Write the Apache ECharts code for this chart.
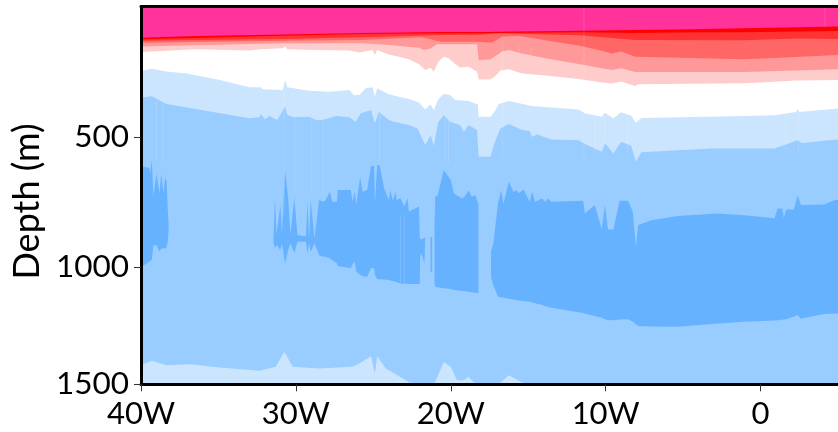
<!DOCTYPE html>
<html><head><meta charset="utf-8">
<style>html,body{margin:0;padding:0;background:#fff;overflow:hidden}#c{width:838px;height:432px}</style>
<script src="https://cdn.jsdelivr.net/npm/echarts@6/dist/echarts.min.js"></script>
</head><body><div id="c"></div>
<script>
// Longitude: negative = west. Each boundary is a list of [longitude, depth in metres on the plotted axis].
const xTickValues = [-40,-30,-20,-10,0];
const xTickLabels = ['40W','30W','20W','10W','0'];
const yTickValues = [500,1000,1450];
const yTickLabels = ['500','1000','1500'];

const layerColors = ['#ff3399','#ff0000','#ff3333','#ff6666','#ff9999','#ffcccc','#ffffff','#cce5ff','#99ccff'];
const darkColor = '#66b2ff';

const surface = [[-40,0],[5,0]];
const pinkBase = [[-40,120],[-36.4,113],[-30.75,107],[-25.7,102],[-20.6,98],[-17.55,98],[-16.9,97],[-11.75,93],[-8.1,90],[-5.35,88],[-1.05,83],[5,77]];
const redBase = [[-40,126],[-30.75,112],[-25.7,106],[-20.6,103],[-18.2,103],[-11.75,99],[-8.1,102],[-5.35,100],[-1.05,99],[5,94]];
const red2Base = [[-40,131],[-36.4,129],[-30.75,125],[-25.7,118],[-20.6,109],[-18.2,108],[-16.9,103],[-11.75,110],[-11.35,112],[-8.1,129],[-1.05,130],[0.9,126],[2.4,123],[5,125]];
const salmonBase = [[-40,139],[-30.75,131],[-25.7,129],[-21.9,118],[-20.6,135],[-18.3,135],[-18.2,141],[-17.35,139],[-16.7,116],[-15.6,113],[-11.75,150],[-10.25,170],[-9.6,180],[-9,173],[-8.1,193],[-1.05,202],[0.9,198],[5,186]];
const paleBase = [[-40,154],[-30.75,141],[-25.7,141],[-24,148],[-22.05,158],[-21.75,167],[-21.3,161],[-20.9,145],[-18.3,145],[-18.2,205],[-17.45,203],[-17.1,190],[-16.7,173],[-16.25,167],[-15.4,180],[-13.9,199],[-11.75,221],[-10.25,237],[-9.6,244],[-9,237],[-8.1,251],[-1.05,251],[5,241]];
const roseBase = [[-40,175],[-36.4,164],[-33,169],[-32.25,164],[-30.85,160],[-30.7,154],[-30.55,164],[-28.7,167],[-26.55,169],[-25.9,177],[-25.05,167],[-24.9,186],[-24.75,167],[-24,184],[-23.35,193],[-22.7,202],[-22.05,222],[-21.65,244],[-21.3,235],[-21.1,250],[-20.8,212],[-20.45,193],[-20.15,199],[-19.7,222],[-19.4,234],[-18.85,231],[-18.3,250],[-18.2,280],[-17.45,280],[-17.15,269],[-16.8,246],[-16.25,241],[-15.4,257],[-13.9,265],[-11.75,278],[-10.25,292],[-9.6,296],[-9,288],[-8.1,305],[-7.9,298],[-1.05,295],[0,292],[2.3,284],[2.4,279],[2.5,284],[5,282]];
const whiteBase = [[-40,248],[-39.3,239],[-38.35,249],[-37.05,257],[-34.9,282],[-33,310],[-32.25,310],[-32.15,318],[-30.85,320],[-30.7,282],[-30.55,310],[-29.15,323],[-27.85,327],[-26.55,320],[-26.25,340],[-25.9,340],[-25.5,314],[-25.05,310],[-24.9,346],[-24.75,314],[-24,337],[-23.35,346],[-22.7,355],[-22.05,368],[-21.65,394],[-21.3,376],[-21.1,397],[-20.8,355],[-20.45,336],[-20.05,340],[-19.7,359],[-18.85,363],[-18.25,376],[-18.2,423],[-17.45,423],[-17.15,401],[-16.9,374],[-16.25,363],[-14.75,382],[-11.75,395],[-11.35,410],[-10.25,423],[-10.05,408],[-9.5,429],[-9,406],[-8.35,419],[-8.05,446],[-7.7,428],[-1.05,420],[0.9,417],[2.3,405],[2.4,392],[2.5,405],[5,391]];
const lightBase = [[-40,349],[-39.3,344],[-38.35,374],[-33,429],[-32.35,425],[-32.25,413],[-32,433],[-31.7,420],[-31.2,436],[-30.95,410],[-30.7,384],[-30.55,416],[-30.1,425],[-29.15,423],[-28.7,436],[-28.3,436],[-27.4,420],[-26.55,425],[-26.15,442],[-25.8,410],[-25.15,397],[-24.9,448],[-24.65,404],[-24,436],[-23.65,442],[-23.15,449],[-22.7,455],[-22.15,468],[-21.95,493],[-21.65,532],[-21.3,493],[-21.1,534],[-20.8,442],[-20.45,417],[-20.05,442],[-19.4,455],[-19.15,481],[-18.85,455],[-18.3,474],[-18.2,577],[-17.45,577],[-17.15,519],[-16.8,468],[-16.25,451],[-15.85,462],[-15.4,474],[-14.9,478],[-14.75,500],[-14.4,490],[-14.1,498],[-13.5,510],[-11.75,513],[-11.35,528],[-10.25,557],[-10.05,525],[-9.5,564],[-9,519],[-8.35,534],[-8.05,596],[-7.7,559],[-3.2,545],[0.9,545],[2.4,513],[2.7,525],[4.1,515],[5,510]];

// Dark band: [longitude, upper depth, lower depth]; null separates the pieces of the band.
const darkBand = [
  [-40,612,1000],[-39.45,621,980],[-39.4,640,975],[-39.3,587,973],[-39.2,730,916],[-39,641,916],[-38.8,717,941],[-38.7,643,929],[-38.55,715,929],[-38.45,660,929],[-38.35,670,925],[-38.27,781,900],[-38.22,830,860],
  null,
  [-31.45,905,905],[-31.35,736,928],[-31.25,877,915],[-31,762,935],[-30.9,877,909],[-30.7,627,986],[-30.5,736,935],[-30.35,877,909],[-30.1,736,947],[-29.9,877,903],[-29.35,883,903],[-29.25,749,947],[-29.15,894,909],[-29.05,743,941],[-28.8,890,909],[-28.5,743,954],[-28.25,749,960],[-28.1,745,960],[-27.8,711,967],[-27.65,749,975],[-27.35,749,985],[-27.3,704,996],[-26.45,704,1005],[-26.35,749,990],[-26.2,711,979],[-26.1,762,1018],[-25.85,653,1030],[-25.7,711,1035],[-25.4,704,1037],[-25.15,612,1005],[-24.95,612,1005],[-24.9,758,1030],[-24.75,608,1047],[-24.6,608,1047],[-24.3,698,1048],[-24,743,1050],[-23.9,704,1052],[-23.75,745,1054],[-23.55,711,1056],[-23.5,743,1057],[-23.25,736,1063],[-23,768,1064],[-22.8,736,1064],[-22.7,787,1065],[-22.05,768,1065],[-22,890,1065],[-21.98,890,960],[-21.9,894,945],[-21.7,887,987],[-21.65,887,895],
  null,
  [-21.3,885,1020],[-21.2,885,1020],
  null,
  [-21.05,830,1060],[-21,730,1076],[-20.85,725,1078],[-20.45,628,1081],[-20,666,1084],[-19.8,717,1088],[-19.6,725,1089],[-19.25,737,1092],[-19.05,725,1093],[-18.85,705,1095],[-18.65,730,1097],[-18.4,724,1099],[-18.25,756,1101],[-18.22,756,1101],
  null,
  [-17.4,940,1040],[-17.25,909,1070],[-16.95,756,1114],[-16.75,705,1116],[-16.6,756,1118],[-16.25,673,1122],[-15.95,711,1125],[-15.75,705,1127],[-15.6,717,1128],[-15.3,702,1130],[-14.9,749,1133],[-14.75,711,1136],[-14.55,749,1139],[-14.1,737,1146],[-13.9,749,1150],[-13.7,737,1153],[-13.5,749,1156],[-11.45,746,1176],[-11.35,794,1178],[-10.7,762,1188],[-10.25,856,1195],[-10.05,762,1200],[-9.85,856,1203],[-9.5,856,1204],[-9.1,746,1201],[-8.55,746,1200],[-8.25,788,1210],[-8.05,922,1220],[-7.9,839,1226],[-7.05,820,1228],[-5.35,804,1229],[-2.75,794,1217],[-1.05,801,1210],[0.9,813,1205],[1.1,775,1204],[1.4,775,1202],[1.5,813,1201],[1.65,779,1200],[2.15,779,1190],[2.4,724,1185],[2.6,762,1198],[4.1,760,1180],[4.8,743,1178],[5,743,1178]
];

const deepTop = [[-40,1377],[-39.3,1360],[-38.35,1377],[-36.85,1373],[-34.9,1386],[-32.35,1398],[-31.3,1383],[-30.75,1325],[-30.2,1383],[-28.5,1389],[-26.35,1383],[-25.9,1370],[-25.15,1342],[-24.9,1409],[-24.75,1342],[-24.2,1389],[-22.9,1434],[-22.7,1443],[-22.05,1447],[-21.4,1452],[-21,1441],[-20.45,1364],[-20,1383],[-19.6,1434],[-19.15,1434],[-18.85,1421],[-18.55,1441],[-18.25,1452],[-17.1,1452],[-16.8,1444],[-16.25,1415],[-15.4,1443],[-15.2,1452],[5,1452]];

// Faint vertical streaks: [longitude, upper depth, lower depth].
const streaks = [[-39,360,590],[-38.6,360,590],[-30.75,300,800],[-30,430,705],[-29,430,705],[-28.25,440,720],[-24.6,400,615],[-23.25,800,1060],[-23,800,1060],[-20.35,420,600],[-20.15,420,600],[-16.65,135,580],[-15.6,150,175],[-14.8,160,185],[-11.4,0,600],[-10.7,420,570],[-10.05,420,570],[-8.6,420,575],[1.65,420,560],[2.45,420,560],[4.15,0,78]];

const fillSeries = (data, color) => ({
  type: 'line', data, showSymbol: false, silent: true, z: 2,
  lineStyle: { width: 0 }, areaStyle: { color, opacity: 1, origin: 'end' }
});
const bandPieces = [[]];
darkBand.forEach(p => { if (p) bandPieces[bandPieces.length - 1].push(p); else bandPieces.push([]); });

const streakData = [];
streaks.forEach(([x, a, b]) => { streakData.push([x, a], [x, b], [null, null]); });

const series = [
  fillSeries(surface, layerColors[0]),
  fillSeries(pinkBase, layerColors[1]),
  fillSeries(redBase, layerColors[2]),
  fillSeries(red2Base, layerColors[3]),
  fillSeries(salmonBase, layerColors[4]),
  fillSeries(paleBase, layerColors[5]),
  fillSeries(roseBase, layerColors[6]),
  fillSeries(whiteBase, layerColors[7]),
  fillSeries(lightBase, layerColors[8]),
  {
    type: 'custom', coordinateSystem: 'cartesian2d', data: [[0, 0]], silent: true, z: 2, clip: true,
    renderItem: (params, api) => ({
      type: 'group',
      children: bandPieces.map(piece => ({
        type: 'polygon',
        shape: { points: piece.map(p => api.coord([p[0], p[1]])).concat(piece.slice().reverse().map(p => api.coord([p[0], p[2]]))) },
        style: { fill: darkColor }
      }))
    })
  },
  fillSeries(deepTop, layerColors[7]),
  { type: 'line', data: streakData, showSymbol: false, silent: true, z: 3, connectNulls: false,
    lineStyle: { width: 0.8, color: 'rgba(255,255,255,0.16)' } }
];

const font = 'Lato, "Open Sans", sans-serif';
const chart = echarts.init(document.getElementById('c'), null, { renderer: 'canvas' });
chart.setOption({
  animation: false,
  backgroundColor: '#fff',
  grid: { left: 141, top: 6.5, right: -2.75, bottom: 47.7, containLabel: false },
  xAxis: [{
    type: 'value', min: -40, max: 5, position: 'bottom', z: 10, splitLine: { show: false },
    axisLine: { show: true, onZero: false, lineStyle: { color: '#000', width: 3 } },
    axisTick: { show: true, length: 7, customValues: xTickValues, lineStyle: { color: '#333', width: 1 } },
    axisLabel: { color: '#000', fontFamily: font, fontSize: 31, margin: 14, customValues: xTickValues,
      formatter: v => xTickLabels[xTickValues.indexOf(v)] }
  }, {
    type: 'value', min: -40, max: 5, position: 'top', z: 10, splitLine: { show: false },
    axisLine: { show: true, onZero: false, lineStyle: { color: '#000', width: 3 } },
    axisTick: { show: false }, axisLabel: { show: false }
  }],
  yAxis: {
    type: 'value', inverse: true, min: 0, max: 1450, z: 10, splitLine: { show: false },
    name: 'Depth (m)', nameLocation: 'middle', nameGap: 96, nameRotate: 90,
    nameTextStyle: { color: '#000', fontFamily: font, fontSize: 36, padding: [0, 12, 0, 0] },
    axisLine: { show: true, onZero: false, lineStyle: { color: '#000', width: 3 } },
    axisTick: { show: true, length: 7, customValues: yTickValues, lineStyle: { color: '#333', width: 1 } },
    axisLabel: { color: '#000', fontFamily: font, fontSize: 31.5, margin: 12, customValues: yTickValues,
      formatter: v => yTickLabels[yTickValues.indexOf(v)] }
  },
  series
});
</script></body></html>
